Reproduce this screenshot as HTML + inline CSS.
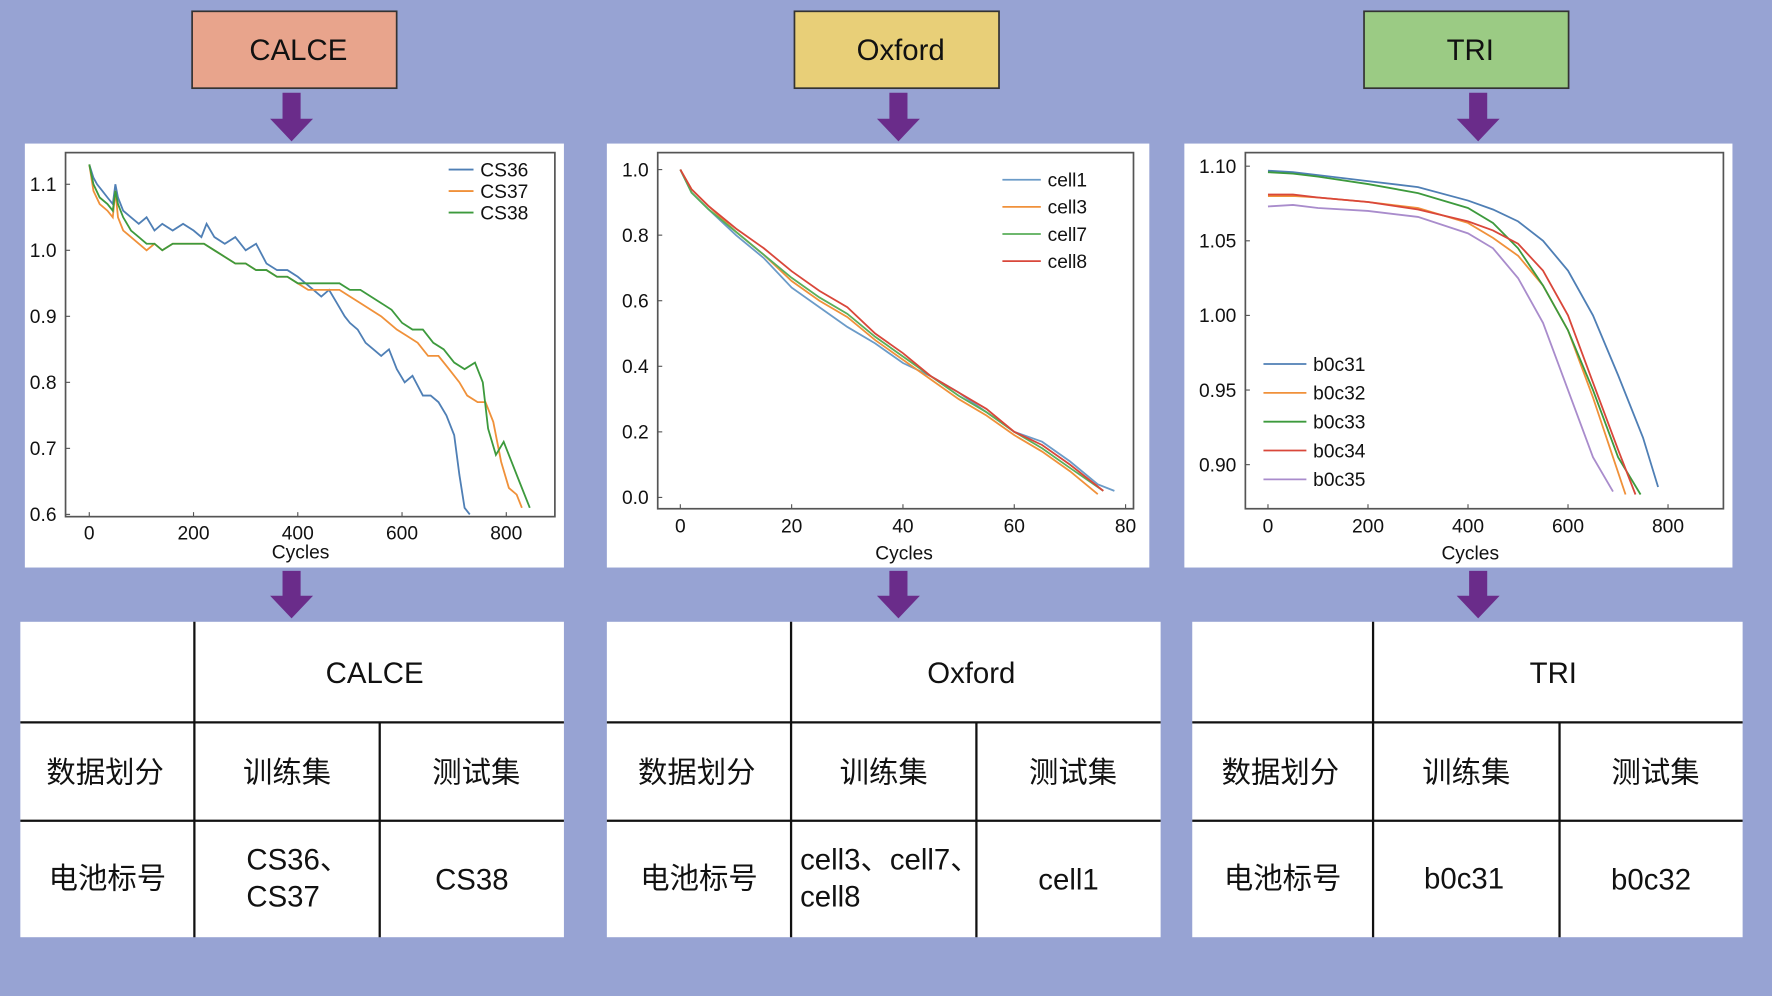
<!DOCTYPE html>
<html><head><meta charset="utf-8">
<style>
html,body{margin:0;padding:0;background:#97a3d3;}
svg{display:block;}
text{font-family:"Liberation Sans","Noto Sans CJK SC",sans-serif;}
</style></head>
<body>
<svg id="root" width="1772" height="996" viewBox="0 0 1568 881" preserveAspectRatio="none">
<rect x="0" y="0" width="1568" height="881" fill="#97a3d3"/>
<g id="layer"></g>
</svg>
<script>
// ---------- DATA ----------
const calceCycles36 = [0,8,15,25,35,45,50,55,65,80,95,110,125,140,160,180,200,215,225,240,260,280,300,320,340,360,380,400,415,430,445,460,475,490,500,515,530,545,560,575,590,605,620,640,655,670,685,700,710,720,730];
const calceCS36 =     [1.13,1.11,1.10,1.09,1.08,1.07,1.10,1.08,1.06,1.05,1.04,1.05,1.03,1.04,1.03,1.04,1.03,1.02,1.04,1.02,1.01,1.02,1.00,1.01,0.98,0.97,0.97,0.96,0.95,0.94,0.93,0.94,0.92,0.90,0.89,0.88,0.86,0.85,0.84,0.85,0.82,0.80,0.81,0.78,0.78,0.77,0.75,0.72,0.66,0.61,0.60];
const calceCycles37 = [0,8,20,35,45,50,55,65,80,95,110,125,140,160,180,200,220,240,260,280,300,320,340,360,380,400,420,440,460,480,500,520,540,560,575,590,610,630,650,670,690,710,725,745,760,775,790,805,820,830];
const calceCS37 =     [1.13,1.09,1.07,1.06,1.05,1.09,1.05,1.03,1.02,1.01,1.00,1.01,1.00,1.01,1.01,1.01,1.01,1.00,0.99,0.98,0.98,0.97,0.97,0.96,0.96,0.95,0.94,0.94,0.94,0.94,0.93,0.92,0.91,0.90,0.89,0.88,0.87,0.86,0.84,0.84,0.82,0.80,0.78,0.77,0.77,0.74,0.68,0.64,0.63,0.61];
const calceCycles38 = [0,8,20,35,45,50,55,65,80,95,110,125,140,160,180,200,220,240,260,280,300,320,340,360,380,400,420,440,460,480,500,520,540,560,580,600,620,640,660,680,700,720,740,755,765,780,795,810,825,845];
const calceCS38 =     [1.13,1.10,1.08,1.07,1.06,1.09,1.07,1.05,1.03,1.02,1.01,1.01,1.00,1.01,1.01,1.01,1.01,1.00,0.99,0.98,0.98,0.97,0.97,0.96,0.96,0.95,0.95,0.95,0.95,0.95,0.94,0.94,0.93,0.92,0.91,0.89,0.88,0.88,0.86,0.85,0.83,0.82,0.83,0.80,0.73,0.69,0.71,0.68,0.65,0.61];

const oxCycles1 = [0,2,5,10,15,20,25,30,35,40,45,50,55,60,65,70,75,78];
const oxCell1 =   [1.0,0.93,0.88,0.80,0.73,0.64,0.58,0.52,0.47,0.41,0.37,0.32,0.26,0.20,0.17,0.11,0.04,0.02];
const oxCycles3 = [0,2,5,10,15,20,25,30,35,40,45,50,55,60,65,70,75];
const oxCell3 =   [1.0,0.94,0.89,0.81,0.74,0.66,0.60,0.55,0.48,0.42,0.36,0.30,0.25,0.19,0.14,0.08,0.01];
const oxCycles7 = [0,2,5,10,15,20,25,30,35,40,45,50,55,60,65,70,76];
const oxCell7 =   [1.0,0.93,0.88,0.81,0.74,0.67,0.61,0.56,0.49,0.43,0.37,0.31,0.26,0.20,0.15,0.09,0.02];
const oxCycles8 = [0,2,5,10,15,20,25,30,35,40,45,50,55,60,65,70,76];
const oxCell8 =   [1.0,0.94,0.89,0.82,0.76,0.69,0.63,0.58,0.50,0.44,0.37,0.32,0.27,0.20,0.16,0.10,0.02];

const triCycles31 = [0,50,100,200,300,400,450,500,550,600,650,700,750,780];
const triB0c31 =    [1.097,1.096,1.094,1.090,1.086,1.077,1.071,1.063,1.050,1.030,1.000,0.960,0.918,0.885];
const triCycles32 = [0,50,100,200,300,400,450,500,550,600,650,690,715];
const triB0c32 =    [1.080,1.080,1.079,1.076,1.072,1.062,1.052,1.040,1.020,0.990,0.945,0.905,0.880];
const triCycles33 = [0,50,100,200,300,400,450,500,550,600,650,700,745];
const triB0c33 =    [1.096,1.095,1.093,1.088,1.082,1.072,1.062,1.045,1.020,0.990,0.950,0.905,0.880];
const triCycles34 = [0,50,100,200,300,400,450,500,550,600,650,700,735];
const triB0c34 =    [1.081,1.081,1.079,1.076,1.071,1.063,1.057,1.048,1.030,1.000,0.955,0.910,0.880];
const triCycles35 = [0,50,100,200,300,400,450,500,550,600,650,690];
const triB0c35 =    [1.073,1.074,1.072,1.070,1.066,1.055,1.045,1.025,0.995,0.950,0.905,0.882];

const calceXTicks = [0,200,400,600,800];
const calceYTicks = ["0.6","0.7","0.8","0.9","1.0","1.1"];
const oxXTicks = [0,20,40,60,80];
const oxYTicks = ["0.0","0.2","0.4","0.6","0.8","1.0"];
const triXTicks = [0,200,400,600,800];
const triYTicks = ["0.90","0.95","1.00","1.05","1.10"];

// ---------- DRAW ----------
const NS="http://www.w3.org/2000/svg";
const layer=document.getElementById('layer');
function mk(tag,attrs,parent){const e=document.createElementNS(NS,tag);for(const k in attrs)e.setAttribute(k,attrs[k]);(parent||layer).appendChild(e);return e;}
function txt(s,x,y,size,anchor,parent){const t=mk('text',{x:x,y:y,'font-size':size,'text-anchor':anchor||'middle',fill:'#111'},parent);t.textContent=s;return t;}

const titles=[["CALCE",170,"#e8a48c",258],["Oxford",703,"#e8cf78",795],["TRI",1207,"#9bcb84",1308]];
titles.forEach(t=>{
  const b=mk('rect',{x:t[1],y:10,width:181,height:68,fill:t[2],stroke:'#333','stroke-width':1.5});
  
  
  const tt=txt(t[0],t[1]+94,53,26);
  
  
  [[82,125],[505,547]].forEach(a=>{
    const ar=mk('polygon',{points:`${t[3]-8},${a[0]} ${t[3]+8},${a[0]} ${t[3]+8},${a[1]-20} ${t[3]+19},${a[1]-20} ${t[3]},${a[1]} ${t[3]-19},${a[1]-20} ${t[3]-8},${a[1]-20}`,fill:'#6a2c8a'});
    
    
  });
});

function chart(cfg){
  const g=mk('g',{});
  
  
  const p=mk('rect',{x:cfg.px,y:127,width:cfg.pw,height:375,fill:'#fff'},g);
  
  
  const fr=mk('rect',{x:cfg.fx0,y:cfg.fy0,width:cfg.fx1-cfg.fx0,height:cfg.fy1-cfg.fy0,fill:'none',stroke:'#555','stroke-width':1.5},g);
  
  
  const X=v=>cfg.x0px+(v-cfg.x0)*(cfg.x1px-cfg.x0px)/(cfg.x1-cfg.x0);
  const Y=v=>cfg.y0px+(v-cfg.y0)*(cfg.y1px-cfg.y0px)/(cfg.y1-cfg.y0);
  cfg.xt.forEach(v=>{
    const t=txt(String(v),X(v),cfg.fy1+cfg.tko,17,'middle',g);
    
    
    mk('line',{x1:X(v),x2:X(v),y1:cfg.fy1,y2:cfg.fy1-4,stroke:'#555'},g);
  });
  cfg.yt.forEach(s=>{
    const v=parseFloat(s);
    const t=txt(s,cfg.fx0-8,Y(v)+6,17,'end',g);
    
    
    mk('line',{x1:cfg.fx0,x2:cfg.fx0+4,y1:Y(v),y2:Y(v),stroke:'#555'},g);
  });
  const xl=txt('Cycles',cfg.clx,cfg.fy1+cfg.clo,17,'middle',g);
  
  
  cfg.series.forEach((s,i)=>{
    const d=s.x.map((v,j)=>(j?'L':'M')+X(v).toFixed(1)+','+Y(s.y[j]).toFixed(1)).join(' ');
    const l=mk('path',{d:d,fill:'none',stroke:s.c,'stroke-width':1.6},g);
    
    
    const ly=cfg.ly+i*cfg.ld;
    mk('line',{x1:cfg.lx,x2:cfg.lx+cfg.lw,y1:ly,y2:ly,stroke:s.c,'stroke-width':1.6},g);
    const lt=txt(s.n,cfg.lx+cfg.lw+6,ly+6,17,'start',g);
    
    
  });
}
const B='#4f7fb5',O='#f0913a',G='#3d9a3d',R='#d9473a',P='#a98ccc';
chart({name:'calce-chart',px:22,pw:477,fx0:58,fx1:491,fy0:135,fy1:457,x0:0,x1:800,x0px:79,x1px:448,y0:0.6,y1:1.1,y0px:455,y1px:163,
  xt:calceXTicks,yt:calceYTicks,lx:397,lw:22,ly:150,ld:19,tko:20,clo:37,clx:266,
  series:[{n:'CS36',c:B,x:calceCycles36,y:calceCS36},{n:'CS37',c:O,x:calceCycles37,y:calceCS37},{n:'CS38',c:G,x:calceCycles38,y:calceCS38}]});
chart({name:'oxford-chart',px:537,pw:480,fx0:582,fx1:1003,fy0:135,fy1:450,x0:0,x1:80,x0px:602,x1px:996,y0:0,y1:1,y0px:440,y1px:150,
  xt:oxXTicks,yt:oxYTicks,lx:887,lw:34,ly:159,ld:24,tko:21,clo:45,clx:800,
  series:[{n:'cell1',c:'#6b9bc8',x:oxCycles1,y:oxCell1},{n:'cell3',c:O,x:oxCycles3,y:oxCell3},{n:'cell7',c:'#5aae5a',x:oxCycles7,y:oxCell7},{n:'cell8',c:R,x:oxCycles8,y:oxCell8}]});
chart({name:'tri-chart',px:1048,pw:485,fx0:1102,fx1:1525,fy0:135,fy1:450,x0:0,x1:800,x0px:1122,x1px:1476,y0:0.9,y1:1.1,y0px:411,y1px:147,
  xt:triXTicks,yt:triYTicks,lx:1118,lw:38,ly:322,ld:25.5,tko:21,clo:45,clx:1301,
  series:[{n:'b0c31',c:B,x:triCycles31,y:triB0c31},{n:'b0c32',c:O,x:triCycles32,y:triB0c32},{n:'b0c33',c:G,x:triCycles33,y:triB0c33},{n:'b0c34',c:R,x:triCycles34,y:triB0c34},{n:'b0c35',c:P,x:triCycles35,y:triB0c35}]});

function table(name,cols,head,train,test,trainX){
  const g=mk('g',{});
  
  
  const [a,b,c,d]=cols, y0=550,y1=639,y2=726,y3=829;
  mk('rect',{x:a,y:y0,width:d-a,height:y3-y0,fill:'#fff'},g);
  const L=(x1,y1_,x2,y2_)=>mk('line',{x1:x1,y1:y1_,x2:x2,y2:y2_,stroke:'#111','stroke-width':2},g);
  L(b,y0,b,y3);L(c,y1,c,y3);L(a,y1,d,y1);L(a,y2,d,y2);
  txt(head,(b+d)/2-4,604,26,'middle',g);
  txt('数据划分',(a+b)/2-2,692,26,'middle',g);
  txt('训练集',(b+c)/2,692,26,'middle',g);
  txt('测试集',(c+d)/2+4,692,26,'middle',g);
  txt('电池标号',(a+b)/2,786,26,'middle',g);
  if(train.length===2){txt(train[0],trainX,769,26,'start',g);txt(train[1],trainX,802,26,'start',g);}
  else txt(train[0],(b+c)/2-2,786,26,'middle',g);
  txt(test,(c+d)/2,787,26,'middle',g);
}
table('calce-table',[18,172,336,499],'CALCE',['CS36、','CS37'],'CS38',218);
table('oxford-table',[537,700,864,1027],'Oxford',['cell3、cell7、','cell8'],'cell1',708);
table('tri-table',[1055,1215,1380,1542],'TRI',['b0c31'],'b0c32',0);
</script>
</body></html>
